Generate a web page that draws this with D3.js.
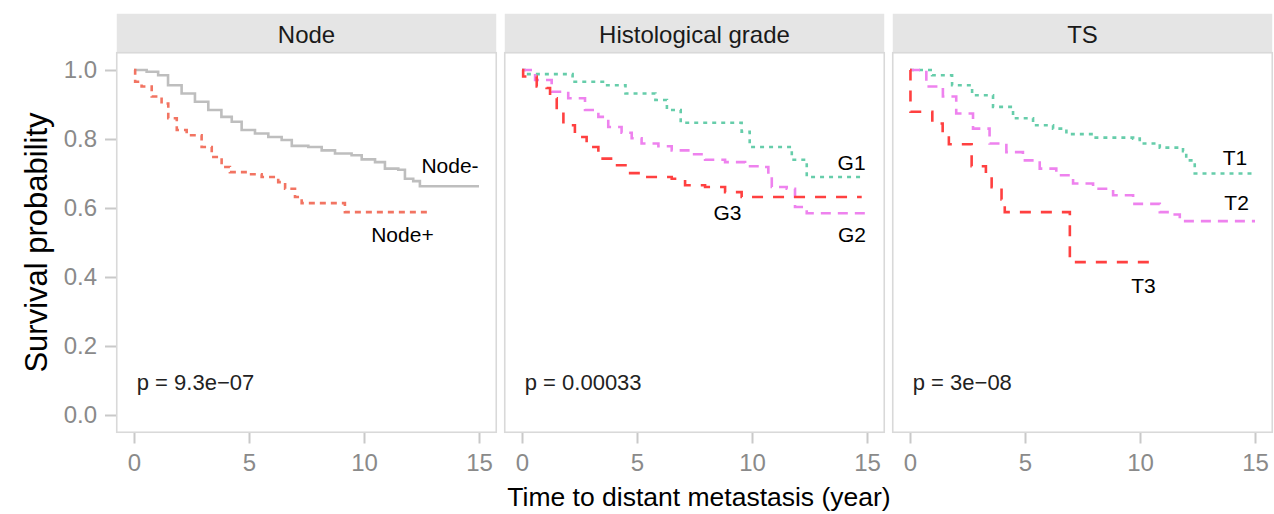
<!DOCTYPE html>
<html>
<head>
<meta charset="utf-8">
<script src="https://cdn.jsdelivr.net/npm/d3@7"></script>
<style>
  body { margin: 0; background: #fff; }
  text { font-family: "Liberation Sans", Arial, Helvetica, sans-serif; }
</style>
</head>
<body>
<svg id="chart"></svg>
<script>
// survival curves: time (year) where the step lands, survival after it
const nodeNegT = [0, 0.55, 1.05, 1.48, 2.07, 2.65, 3.23, 3.8, 4.25, 4.68, 5.26, 5.84, 6.42, 6.86, 7.58, 8.16, 8.74, 9.46, 9.9, 10.48, 10.91, 11.49, 11.78, 12.14, 12.43, 15.0]
const nodeNegS = [1.0, 0.995, 0.985, 0.956, 0.932, 0.908, 0.884, 0.864, 0.85, 0.826, 0.816, 0.806, 0.797, 0.78, 0.777, 0.767, 0.758, 0.753, 0.741, 0.733, 0.714, 0.711, 0.685, 0.678, 0.663, 0.663]
const nodePosT = [0, 0.05, 0.33, 0.77, 1.2, 1.49, 1.86, 2.29, 2.94, 3.38, 3.81, 4.17, 4.97, 5.55, 6.27, 6.57, 7.0, 7.29, 9.17, 12.87]
const nodePosS = [1.0, 0.966, 0.952, 0.923, 0.903, 0.86, 0.826, 0.811, 0.777, 0.748, 0.719, 0.704, 0.698, 0.69, 0.675, 0.656, 0.632, 0.614, 0.588, 0.588]

const g1T = [0, 0.2, 2.2, 3.6, 4.5, 5.8, 6.3, 6.9, 9.55, 9.9, 11.73, 12.38, 14.9]
const g1S = [1.0, 0.988, 0.966, 0.956, 0.932, 0.913, 0.884, 0.847, 0.821, 0.777, 0.74, 0.69, 0.69]
const g2T = [0, 0.57, 1.29, 2.01, 2.74, 3.32, 3.75, 4.33, 4.77, 5.2, 5.93, 6.51, 7.23, 7.96, 8.83, 9.7, 10.42, 10.71, 10.86, 11.51, 11.87, 12.38, 15.0]
const g2S = [1.0, 0.971, 0.937, 0.918, 0.884, 0.864, 0.835, 0.818, 0.802, 0.787, 0.779, 0.767, 0.756, 0.74, 0.733, 0.721, 0.719, 0.695, 0.661, 0.656, 0.603, 0.585, 0.585]
const g3T = [0, 0.05, 0.64, 1.07, 1.22, 1.51, 1.8, 2.3, 2.81, 3.32, 4.04, 4.62, 5.35, 6.51, 7.09, 7.96, 8.83, 9.55, 14.77]
const g3S = [1.0, 0.981, 0.952, 0.948, 0.918, 0.879, 0.84, 0.806, 0.777, 0.743, 0.724, 0.701, 0.69, 0.685, 0.666, 0.661, 0.646, 0.632, 0.632]

const t1T = [0, 0.96, 1.83, 2.7, 3.61, 4.48, 5.35, 6.22, 6.8, 7.96, 9.7, 9.99, 10.86, 11.87, 12.01, 12.38, 15.0]
const t1S = [1.0, 0.985, 0.956, 0.927, 0.893, 0.86, 0.84, 0.83, 0.814, 0.804, 0.801, 0.787, 0.775, 0.765, 0.738, 0.7, 0.7]
const t2T = [0, 0.71, 1.43, 2.01, 2.74, 3.46, 4.19, 4.91, 5.64, 6.36, 7.09, 7.96, 8.83, 9.7, 10.86, 11.51, 11.73, 15.0]
const t2S = [1.0, 0.952, 0.923, 0.874, 0.83, 0.787, 0.762, 0.738, 0.714, 0.695, 0.671, 0.656, 0.637, 0.612, 0.588, 0.581, 0.562, 0.562]
const t3T = [0, 0.02, 0.97, 1.42, 1.69, 2.68, 3.3, 3.55, 3.98, 4.12, 6.95, 10.49]
const t3S = [1.0, 0.879, 0.845, 0.814, 0.785, 0.721, 0.69, 0.66, 0.625, 0.588, 0.443, 0.443]

const panelTitles = ["Node", "Histological grade", "TS"]
const pValues = ["p = 9.3e\u221207", "p = 0.00033", "p = 3e\u221208"]
const xTicks = [0, 5, 10, 15]
const yTicks = [0, 0.2, 0.4, 0.6, 0.8, 1.0]

// curve labels: text and where it sits in data space (centre, baseline)
const labelNames = [["Node-", "Node+"], ["G1", "G2", "G3"], ["T1", "T2", "T3"]]
const labelT = [[13.74, 11.67], [14.33, 14.35, 8.93], [14.13, 14.2, 10.15]]
const labelS = [[0.701, 0.502], [0.71, 0.502, 0.565], [0.725, 0.594, 0.353]]

const curveT = [[nodeNegT, nodePosT], [g1T, g2T, g3T], [t1T, t2T, t3T]]
const curveS = [[nodeNegS, nodePosS], [g1S, g2S, g3S], [t1S, t2S, t3S]]

// styles
const styles = [
  [{ color: "#bebebe", dash: null }, { color: "#f27462", dash: "6,5" }],
  [{ color: "#66cdaa", dash: "4,5" }, { color: "#ee82ee", dash: "10,7" }, { color: "#ff4040", dash: "11,10" }],
  [{ color: "#66cdaa", dash: "4,5" }, { color: "#ee82ee", dash: "10,7" }, { color: "#ff4040", dash: "11,10" }]
]

const width = 1274
const height = 514
const panelX0 = 116.75
const panelW = 379.5
const panelGap = 8.5
const panelTop = 52.75
const panelH = 379.5
const stripTop = 13.75

const svg = d3.select('svg#chart').attr('width', width).attr('height', height)

const y = d3.scaleLinear().domain([-0.05, 1.05]).range([panelTop + panelH, panelTop])

panelTitles.forEach((title, i) => {
    const left = panelX0 + i * (panelW + panelGap)
    const x = d3.scaleLinear().domain([-0.75, 15.75]).range([left, left + panelW])
    const g = svg.append('g')

    // strip
    g.append('rect')
        .attr('x', left).attr('y', stripTop)
        .attr('width', panelW).attr('height', panelTop - stripTop)
        .attr('fill', '#e5e5e5')
    g.append('text')
        .attr('x', left + panelW / 2).attr('y', 43)
        .attr('text-anchor', 'middle')
        .style('font-size', '24px')
        .attr('fill', '#1a1a1a')
        .text(title)

    // panel border
    g.append('rect')
        .attr('x', left).attr('y', panelTop)
        .attr('width', panelW).attr('height', panelH)
        .attr('fill', 'none')
        .attr('stroke', '#d9d9d9')
        .attr('stroke-width', 1.6)

    // x axis
    const xAxis = g.append('g')
        .attr('transform', 'translate(0,' + (panelTop + panelH + 0.75) + ')')
        .call(d3.axisBottom(x).tickValues(xTicks).tickSize(10.5).tickPadding(10))
    xAxis.select('.domain').remove()
    xAxis.selectAll('line').attr('stroke', '#c9c9c9').attr('stroke-width', 2)
    xAxis.selectAll('text').attr('fill', '#8a8a8a').style('font-size', '24px')
        .style('font-family', '"Liberation Sans", Arial, sans-serif')

    if (i === 0) {
        const yAxis = g.append('g')
            .attr('transform', 'translate(' + (left - 0.75) + ',0)')
            .call(d3.axisLeft(y).tickValues(yTicks).tickSize(11).tickPadding(8).tickFormat(d3.format('.1f')))
        yAxis.select('.domain').remove()
        yAxis.selectAll('line').attr('stroke', '#c9c9c9').attr('stroke-width', 2)
        yAxis.selectAll('text').attr('fill', '#8a8a8a').style('font-size', '24px')
            .style('font-family', '"Liberation Sans", Arial, sans-serif')
    }

    // curves
    const line = d3.line()
        .x(d => x(d[0]))
        .y(d => y(d[1]))
        .curve(d3.curveStepAfter)

    curveT[i].forEach((ts, j) => {
        const pts = ts.map((t, k) => [t, curveS[i][j][k]])
        g.append('path')
            .datum(pts)
            .attr('d', line)
            .attr('fill', 'none')
            .attr('stroke', styles[i][j].color)
            .attr('stroke-width', 2.6)
            .attr('stroke-dasharray', styles[i][j].dash)
    })

    // curve labels
    labelNames[i].forEach((name, j) => {
        g.append('text')
            .attr('x', x(labelT[i][j]))
            .attr('y', y(labelS[i][j]))
            .attr('text-anchor', 'middle')
            .style('font-size', '21px')
            .attr('fill', '#000')
            .text(name)
    })

    // p value
    g.append('text')
        .attr('x', x(0.12))
        .attr('y', y(0.072))
        .style('font-size', '22px')
        .attr('fill', '#222')
        .text(pValues[i])
})

// axis titles
svg.append('text')
    .attr('transform', 'translate(47,' + (panelTop + panelH / 2) + ') rotate(-90)')
    .attr('text-anchor', 'middle')
    .style('font-size', '31px')
    .attr('fill', '#000')
    .text('Survival probability')

svg.append('text')
    .attr('x', 699)
    .attr('y', 506)
    .attr('text-anchor', 'middle')
    .style('font-size', '26.5px')
    .attr('fill', '#000')
    .text('Time to distant metastasis (year)')
</script>
</body>
</html>
